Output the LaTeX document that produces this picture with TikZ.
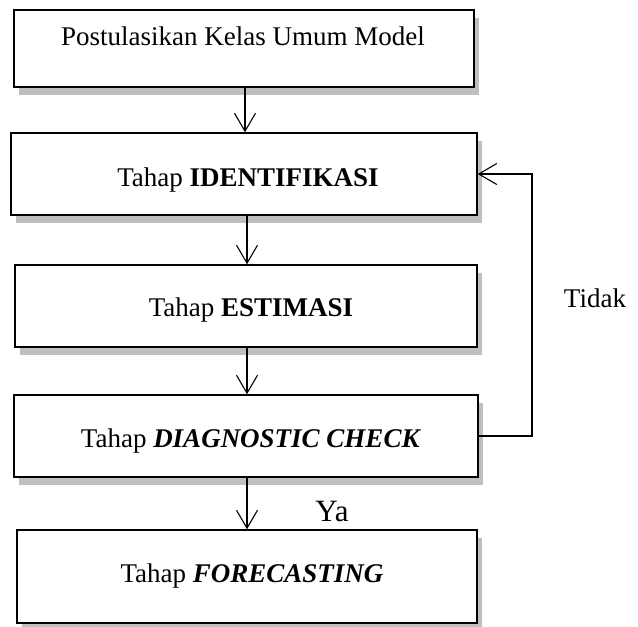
\documentclass[tikz,border=0pt]{standalone}
\usepackage{fontspec}
\setmainfont{Liberation Serif}
\usetikzlibrary{arrows.meta,shadows}
\definecolor{shgray}{HTML}{BFBFBF}
\begin{document}
\begin{tikzpicture}[x=1pt,y=-1pt,
  box/.style={draw=black,line width=1.4pt,fill=white,rectangle,inner sep=0pt,
    general shadow={fill=shgray,shadow xshift=5pt,shadow yshift=-8pt}},
  arr/.style={line width=1.1pt,-{Straight Barb[length=18pt,width=21pt,line width=1.1pt]}},
  lbl/.style={inner sep=0pt,anchor=base,font=\fontsize{27}{32}\selectfont}]
\useasboundingbox (0,0) rectangle (638,627);
\node[box,minimum width=460pt,minimum height=77pt] (b1) at (244,48.5) {};
\node[box,minimum width=466pt,minimum height=82pt] (b2) at (244,174) {};
\node[box,minimum width=462pt,minimum height=82pt] (b3) at (246,306) {};
\node[box,minimum width=464pt,minimum height=82pt] (b4) at (246,436) {};
\node[box,minimum width=460pt,minimum height=93pt] (b5) at (247,576.5) {};
\node[lbl] (t1) at (243,45) {Postulasikan Kelas Umum Model};
\node[lbl] (t2) at (248,186) {Tahap \textbf{IDENTIFIKASI}};
\node[lbl] (t3) at (251,316) {Tahap \textbf{ESTIMASI}};
\node[lbl] (t4) at (251,447) {Tahap \textbf{\textit{DIAGNOSTIC CHECK}}};
\node[lbl] (t5) at (252,582) {Tahap \textbf{\textit{FORECASTING}}};
\coordinate (c1) at (245,0);
\coordinate (c2) at (247,0);
\draw[arr] (b1.south -| c1) -- (b2.north -| c1);
\draw[arr] (b2.south -| c2) -- (b3.north -| c2);
\draw[arr] (b3.south -| c2) -- (b4.north -| c2);
\draw[arr] (b4.south -| c2) -- (b5.north -| c2);
\coordinate (fb) at (532,0);
\draw[arr] (b4.east) -- (b4.east -| fb) -- (b2.east -| fb) -- (b2.east);
\node[lbl] (tidak) at (595,307) {Tidak};
\node[lbl,font=\fontsize{31}{36}\selectfont] (ya) at (332,521) {Ya};
\end{tikzpicture}
\end{document}
